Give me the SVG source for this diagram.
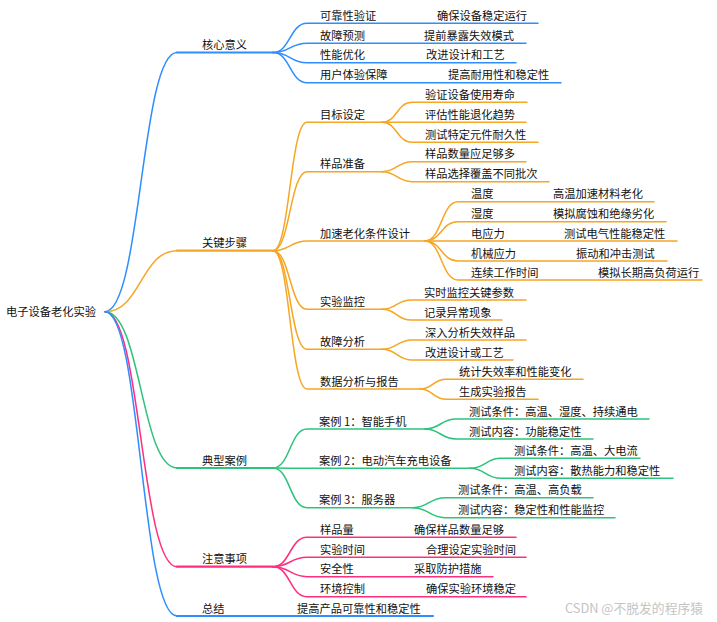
<svg xmlns="http://www.w3.org/2000/svg" width="717" height="622" viewBox="0 0 717 622">
<style>
text{font-family:"Noto Sans CJK SC","Noto Sans",sans-serif;font-size:11.25px;fill:#111}
path,line{fill:none;stroke-linecap:round}
.b{stroke:#2E8EFF}.o{stroke:#F5A623}.g{stroke:#2DC37C}.p{stroke:#FF2E7E}
.c{stroke-width:1.5}.u{stroke-width:1.6}.u1{stroke-width:2.2}
.wm{fill:#c4c4c4;font-size:12.8px}
</style>
<rect width="717" height="622" fill="#fff"/>
<g id="connectors">
<!-- root to level 1 -->
<path class="b c" d="M105,311.7 C141,311.7 141,52.5 177,52.5"/>
<path class="o c" d="M105,311.7 C141,311.7 141,250.7 177,250.7"/>
<path class="g c" d="M105,311.7 C141,311.7 141,468 177,468"/>
<path class="p c" d="M105,311.7 C141,311.7 141,566.7 177,566.7"/>
<path class="b c" d="M105,311.7 C141,311.7 141,616 177,616"/>
<line class="b u1" x1="177" y1="52.5" x2="273" y2="52.5"/>
<line class="o u1" x1="177" y1="250.7" x2="273" y2="250.7"/>
<line class="g u1" x1="177" y1="468" x2="273" y2="468"/>
<line class="p u1" x1="177" y1="566.7" x2="273" y2="566.7"/>
<line class="b u1" x1="177" y1="616" x2="433" y2="616"/>
<!-- 核心意义 -->
<path class="b c" d="M273,52.5 C290,52.5 290,23.3 307,23.3 L538,23.3"/>
<path class="b c" d="M273,52.5 C290,52.5 290,43.3 307,43.3 L526,43.3"/>
<path class="b c" d="M273,52.5 C290,52.5 290,62.7 307,62.7 L516,62.7"/>
<path class="b c" d="M273,52.5 C290,52.5 290,82.7 307,82.7 L561,82.7"/>
<!-- 关键步骤 -->
<path class="o c" d="M273,250.7 C290,250.7 290,122.3 307,122.3 L382,122.3"/>
<path class="o c" d="M273,250.7 C290,250.7 290,171.7 307,171.7 L382,171.7"/>
<path class="o c" d="M273,250.7 C290,250.7 290,241 307,241 L425,241"/>
<path class="o c" d="M273,250.7 C290,250.7 290,309.3 307,309.3 L382,309.3"/>
<path class="o c" d="M273,250.7 C290,250.7 290,349.3 307,349.3 L382,349.3"/>
<path class="o c" d="M273,250.7 C290,250.7 290,389 307,389 L420,389"/>
<path class="o c" d="M382,122.3 C397,122.3 397,102.3 412,102.3 L527,102.3"/>
<path class="o c" d="M382,122.3 L526,122.3"/>
<path class="o c" d="M382,122.3 C397,122.3 397,142.3 412,142.3 L538,142.3"/>
<path class="o c" d="M382,171.7 C397,171.7 397,161.7 412,161.7 L526,161.7"/>
<path class="o c" d="M382,171.7 C397,171.7 397,181.7 412,181.7 L549,181.7"/>
<path class="o c" d="M425,241 C441.5,241 441.5,201.7 458,201.7 L654,201.7"/>
<path class="o c" d="M425,241 C441.5,241 441.5,221.7 458,221.7 L666,221.7"/>
<path class="o c" d="M425,241 L677,241"/>
<path class="o c" d="M425,241 C441.5,241 441.5,261 458,261 L667,261"/>
<path class="o c" d="M425,241 C441.5,241 441.5,280 458,280 L702,280"/>
<path class="o c" d="M382,309.3 C396.5,309.3 396.5,300 411,300 L526,300"/>
<path class="o c" d="M382,309.3 C396.5,309.3 396.5,320 411,320 L502,320"/>
<path class="o c" d="M382,349.3 C397,349.3 397,340 412,340 L526,340"/>
<path class="o c" d="M382,349.3 C397,349.3 397,360 412,360 L513,360"/>
<path class="o c" d="M420,389 C433,389 433,379.3 446,379.3 L583,379.3"/>
<path class="o c" d="M420,389 C433,389 433,399.3 446,399.3 L538,399.3"/>
<!-- 典型案例 -->
<path class="g c" d="M273,468 C290,468 290,429 307,429 L425,429"/>
<path class="g c" d="M273,468 C290,468 290,468.3 307,468.3 L470,468.3"/>
<path class="g c" d="M273,468 C290,468 290,507.7 307,507.7 L413,507.7"/>
<path class="g c" d="M425,429 C440.5,429 440.5,419 456,419 L649,419"/>
<path class="g c" d="M425,429 C440.5,429 440.5,439 456,439 L593,439"/>
<path class="g c" d="M470,468.3 C485.5,468.3 485.5,458.3 501,458.3 L640,458.3"/>
<path class="g c" d="M470,468.3 C485.5,468.3 485.5,478.3 501,478.3 L673,478.3"/>
<path class="g c" d="M413,507.7 C429,507.7 429,497.7 445,497.7 L593,497.7"/>
<path class="g c" d="M413,507.7 C429,507.7 429,517.7 445,517.7 L615,517.7"/>
<!-- 注意事项 -->
<path class="p c" d="M273,566.7 C290,566.7 290,537.3 307,537.3 L516,537.3"/>
<path class="p c" d="M273,566.7 C290,566.7 290,557.3 307,557.3 L526,557.3"/>
<path class="p c" d="M273,566.7 C290,566.7 290,576.7 307,576.7 L493,576.7"/>
<path class="p c" d="M273,566.7 C290,566.7 290,596.7 307,596.7 L526,596.7"/>
</g>
<g id="root"><text x="6" y="316">电子设备老化实验</text></g>
<g id="n-core">
<text x="202" y="49">核心意义</text>
<text x="320" y="19.8">可靠性验证</text><text x="437" y="19.8">确保设备稳定运行</text>
<text x="320" y="39.8">故障预测</text><text x="424" y="39.8">提前暴露失效模式</text>
<text x="320" y="59.2">性能优化</text><text x="426" y="59.2">改进设计和工艺</text>
<text x="320" y="79.2">用户体验保障</text><text x="448" y="79.2">提高耐用性和稳定性</text>
</g>
<g id="n-steps">
<text x="202" y="247.2">关键步骤</text>
<text x="320" y="118.8">目标设定</text>
<text x="425" y="98.8">验证设备使用寿命</text>
<text x="425" y="118.8">评估性能退化趋势</text>
<text x="425" y="138.8">测试特定元件耐久性</text>
<text x="320" y="168.2">样品准备</text>
<text x="425" y="158.2">样品数量应足够多</text>
<text x="425" y="178.2">样品选择覆盖不同批次</text>
<text x="320" y="237.5">加速老化条件设计</text>
<text x="471" y="198.2">温度</text><text x="553" y="198.2">高温加速材料老化</text>
<text x="471" y="218.2">湿度</text><text x="553" y="218.2">模拟腐蚀和绝缘劣化</text>
<text x="471" y="237.5">电应力</text><text x="564" y="237.5">测试电气性能稳定性</text>
<text x="471" y="257.5">机械应力</text><text x="576" y="257.5">振动和冲击测试</text>
<text x="471" y="276.5">连续工作时间</text><text x="598" y="276.5">模拟长期高负荷运行</text>
<text x="320" y="305.8">实验监控</text>
<text x="424" y="296.5">实时监控关键参数</text>
<text x="424" y="316.5">记录异常现象</text>
<text x="320" y="345.8">故障分析</text>
<text x="425" y="336.5">深入分析失效样品</text>
<text x="425" y="356.5">改进设计或工艺</text>
<text x="320" y="385.5">数据分析与报告</text>
<text x="459" y="375.8">统计失效率和性能变化</text>
<text x="459" y="395.8">生成实验报告</text>
</g>
<g id="n-cases">
<text x="202" y="464.5">典型案例</text>
<text x="319" y="425.5">案例 1：智能手机</text>
<text x="469" y="415.5">测试条件：高温、湿度、持续通电</text>
<text x="469" y="435.5">测试内容：功能稳定性</text>
<text x="319" y="464.8">案例 2：电动汽车充电设备</text>
<text x="514" y="454.8">测试条件：高温、大电流</text>
<text x="514" y="474.8">测试内容：散热能力和稳定性</text>
<text x="319" y="504.2">案例 3：服务器</text>
<text x="458" y="494.2">测试条件：高温、高负载</text>
<text x="458" y="514.2">测试内容：稳定性和性能监控</text>
</g>
<g id="n-notes">
<text x="202" y="563.2">注意事项</text>
<text x="320" y="533.8">样品量</text><text x="414" y="533.8">确保样品数量足够</text>
<text x="320" y="553.8">实验时间</text><text x="426" y="553.8">合理设定实验时间</text>
<text x="320" y="573.2">安全性</text><text x="414" y="573.2">采取防护措施</text>
<text x="320" y="593.2">环境控制</text><text x="426" y="593.2">确保实验环境稳定</text>
</g>
<g id="n-summary">
<text x="202" y="612.5">总结</text>
<text x="297" y="612.5">提高产品可靠性和稳定性</text>
</g>
<text class="wm" x="565" y="613">CSDN @不脱发的程序猿</text>
</svg>
